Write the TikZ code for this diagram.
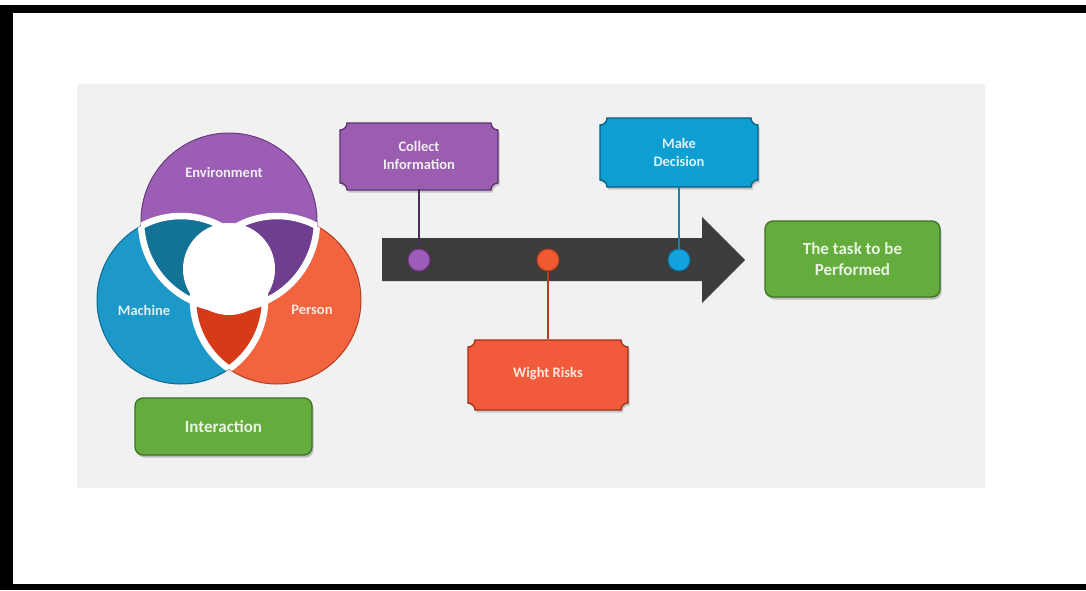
\documentclass[tikz,border=0pt]{standalone}
\usepackage{fontspec}
\setmainfont{Carlito}
\usetikzlibrary{shadows}
\definecolor{panelc}{HTML}{F1F1F1}
\definecolor{envc}{HTML}{9B5EB4}
\definecolor{envd}{HTML}{6A3A80}
\definecolor{dpurc}{HTML}{6F3E8E}
\definecolor{macc}{HTML}{1C98C9}
\definecolor{macd}{HTML}{0E6A90}
\definecolor{tealc}{HTML}{137396}
\definecolor{perc}{HTML}{F26440}
\definecolor{perd}{HTML}{B04020}
\definecolor{redc}{HTML}{D63A18}
\definecolor{colc}{HTML}{9A5DAF}
\definecolor{cold}{HTML}{5E3270}
\definecolor{decc}{HTML}{0E9FD2}
\definecolor{decd}{HTML}{0B5E80}
\definecolor{riskc}{HTML}{F15B3B}
\definecolor{riskd}{HTML}{9E3218}
\definecolor{grc}{HTML}{64AC3E}
\definecolor{grd}{HTML}{3D7324}
\definecolor{arrc}{HTML}{3C3C3C}
\definecolor{dotpc}{HTML}{9C5CB8}
\definecolor{dotpd}{HTML}{6B3580}
\definecolor{dotoc}{HTML}{F05A30}
\definecolor{dotod}{HTML}{B03A1A}
\definecolor{dotbc}{HTML}{12A2DD}
\definecolor{dotbd}{HTML}{0E6E98}
\definecolor{linep}{HTML}{4B2A5E}
\definecolor{lineo}{HTML}{B5401C}
\definecolor{lineb}{HTML}{1E7FA8}
\newcommand\plaqueshape[6]{%
  \fill[black,opacity=.18,shift={(1.5,2.5)}] (#1,#4-7) -- (#1,#2+7) arc[start angle=90,end angle=0,radius=7] -- (#3-7,#2) arc[start angle=180,end angle=90,radius=7] -- (#3,#4-7) arc[start angle=270,end angle=180,radius=7] -- (#1+7,#4) arc[start angle=360,end angle=270,radius=7] -- cycle;
  \path[fill=#5,draw=#6,line width=1.3pt] (#1,#4-7) -- (#1,#2+7) arc[start angle=90,end angle=0,radius=7] -- (#3-7,#2) arc[start angle=180,end angle=90,radius=7] -- (#3,#4-7) arc[start angle=270,end angle=180,radius=7] -- (#1+7,#4) arc[start angle=360,end angle=270,radius=7] -- cycle;}
\def\circE{(229,221) circle[radius=88]}
\def\circM{(181,300) circle[radius=84]}
\def\circP{(277,300) circle[radius=84]}
\begin{document}
\begin{tikzpicture}[x=1pt,y=-1pt,
  lbl/.style={font=\fontsize{14.5}{18}\selectfont\bfseries, align=center, inner sep=0pt},
  glbl/.style={font=\fontsize{17}{21}\selectfont\bfseries, align=center, inner sep=0pt, text=white!85!grc},
  greenbox/.style={glbl, rounded corners=8pt, fill=grc, draw=grd, line width=1.3pt,
     general shadow={fill=black, opacity=.22, shadow xshift=1.5pt, shadow yshift=-2.5pt}},
  dotnode/.style={circle, minimum size=22pt, inner sep=0pt, line width=1pt},
  gap/.style={white, line width=6.5pt},
  conn/.style={line width=1.1pt}]
\useasboundingbox (0,0) rectangle (1086,590);
\fill[white] (0,0) rectangle (1086,590);
% frame
\fill[black] (0,5) rectangle (1086,13);
\fill[black] (0,5) rectangle (13,590);
\fill[black] (0,584) rectangle (1086,590);
% panel
\fill[panelc] (77,84) rectangle (985,488);
% Venn
\filldraw[fill=envc, draw=envd, line width=1pt] \circE;
\filldraw[fill=macc, draw=macd, line width=1pt] \circM;
\filldraw[fill=perc, draw=perd, line width=1pt] \circP;
\begin{scope}\clip \circE; \fill[tealc] \circM; \end{scope}
\begin{scope}\clip \circE; \fill[dpurc] \circP; \end{scope}
\begin{scope}\clip \circM; \fill[redc] \circP; \end{scope}
\begin{scope}\clip \circE; \clip \circM; \fill[white] \circP; \end{scope}
\fill[white] (229,269) circle[radius=46];
\begin{scope}\clip \circM; \draw[gap] \circE; \end{scope}
\begin{scope}\clip \circP; \draw[gap] \circE; \end{scope}
\begin{scope}\clip \circE; \draw[gap] \circM; \end{scope}
\begin{scope}\clip \circP; \draw[gap] \circM; \end{scope}
\begin{scope}\clip \circE; \draw[gap] \circP; \end{scope}
\begin{scope}\clip \circM; \draw[gap] \circP; \end{scope}
\node[lbl, text=white!88!envc] (env) at (224,172) {Environment};
\node[lbl, text=white!85!macc] (mac) at (144,310) {Machine};
\node[lbl, text=white!85!perc] (per) at (312,310) {Person};
\node[greenbox, minimum width=177pt, minimum height=57pt] (inter) at (223.5,426.5) {Interaction};
% arrow
\fill[arrc] (382,238) -- (702,238) -- (702,217) -- (745,260) -- (702,303) -- (702,281) -- (382,281) -- cycle;
% boxes
\plaqueshape{340}{123}{498}{190}{colc}{cold}
\node[lbl, text=white!88!colc, minimum width=158pt, minimum height=67pt] (collect) at (419,155) {Collect\\Information};
\plaqueshape{600}{118}{758}{187}{decc}{decd}
\node[lbl, text=white!85!decc, minimum width=158pt, minimum height=69pt] (decision) at (679,152) {Make\\Decision};
\plaqueshape{468}{340}{628}{410}{riskc}{riskd}
\node[lbl, text=white!85!riskc, minimum width=160pt, minimum height=70pt] (risks) at (548,374) {Wight Risks};
\node[greenbox, minimum width=175pt, minimum height=76pt] (task) at (852.5,259) {The task to be\\Performed};
% dots
\node[dotnode, fill=dotpc, draw=dotpd] (d1) at (419,260) {};
\node[dotnode, fill=dotoc, draw=dotod] (d2) at (548,260) {};
\node[dotnode, fill=dotbc, draw=dotbd] (d3) at (679,260) {};
% connectors
\draw[conn, linep] (d1) -- (collect);
\draw[conn, lineo] (d2) -- (risks);
\draw[conn, lineb] (d3) -- (decision);
\end{tikzpicture}
\end{document}
